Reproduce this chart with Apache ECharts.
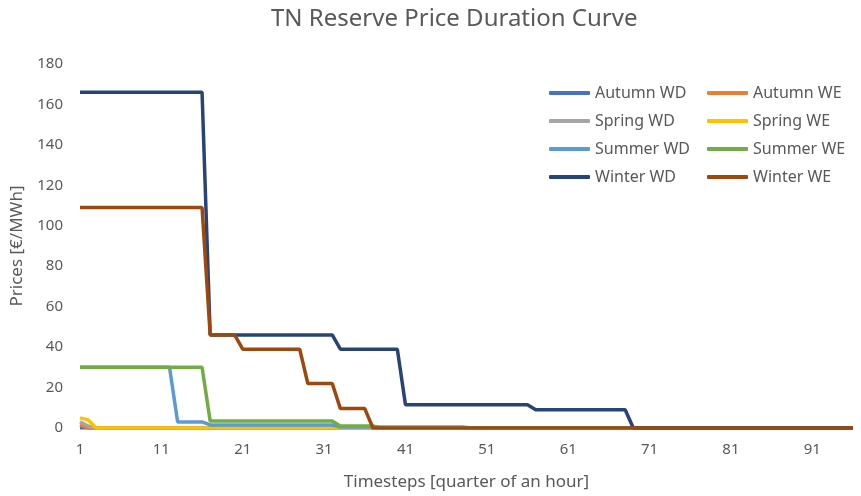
<!DOCTYPE html>
<html>
<head>
<meta charset="utf-8">
<script src="https://cdn.jsdelivr.net/npm/echarts@6/dist/echarts.min.js"></script>
<style>
html,body{margin:0;padding:0;background:#fff;}
#chart{width:861px;height:496px;}
</style>
</head>
<body>
<div id="chart"></div>
<script>
const categories = [
  1,2,3,4,5,6,7,8,9,10,11,12,
  13,14,15,16,17,18,19,20,21,22,23,24,
  25,26,27,28,29,30,31,32,33,34,35,36,
  37,38,39,40,41,42,43,44,45,46,47,48,
  49,50,51,52,53,54,55,56,57,58,59,60,
  61,62,63,64,65,66,67,68,69,70,71,72,
  73,74,75,76,77,78,79,80,81,82,83,84,
  85,86,87,88,89,90,91,92,93,94,95,96];

const autumnWD = [
  0,0,0,0,0,0,0,0,0,0,0,0,
  0,0,0,0,0,0,0,0,0,0,0,0,
  0,0,0,0,0,0,0,0,0,0,0,0,
  0,0,0,0,0,0,0,0,0,0,0,0,
  0,0,0,0,0,0,0,0,0,0,0,0,
  0,0,0,0,0,0,0,0,0,0,0,0,
  0,0,0,0,0,0,0,0,0,0,0,0,
  0,0,0,0,0,0,0,0,0,0,0,0];
const autumnWE = [
  1.5,0,0,0,0,0,0,0,0,0,0,0,
  0,0,0,0,0,0,0,0,0,0,0,0,
  0,0,0,0,0,0,0,0,0,0,0,0,
  0,0,0,0,0,0,0,0,0,0,0,0,
  0,0,0,0,0,0,0,0,0,0,0,0,
  0,0,0,0,0,0,0,0,0,0,0,0,
  0,0,0,0,0,0,0,0,0,0,0,0,
  0,0,0,0,0,0,0,0,0,0,0,0];
const springWD = [
  3,1,0,0,0,0,0,0,0,0,0,0,
  0,0,0,0,0,0,0,0,0,0,0,0,
  0,0,0,0,0,0,0,0,0,0,0,0,
  0,0,0,0,0,0,0,0,0,0,0,0,
  0,0,0,0,0,0,0,0,0,0,0,0,
  0,0,0,0,0,0,0,0,0,0,0,0,
  0,0,0,0,0,0,0,0,0,0,0,0,
  0,0,0,0,0,0,0,0,0,0,0,0];
const springWE = [
  5,4,0,0,0,0,0,0,0,0,0,0,
  0,0,0,0,0,0,0,0,0,0,0,0,
  0,0,0,0,0,0,0,0,0,0,0,0,
  0,0,0,0,0,0,0,0,0,0,0,0,
  0,0,0,0,0,0,0,0,0,0,0,0,
  0,0,0,0,0,0,0,0,0,0,0,0,
  0,0,0,0,0,0,0,0,0,0,0,0,
  0,0,0,0,0,0,0,0,0,0,0,0];
const summerWD = [
  30,30,30,30,30,30,30,30,30,30,30,30,
  3,3,3,3,1.5,1.5,1.5,1.5,1.5,1.5,1.5,1.5,
  1.5,1.5,1.5,1.5,1.5,1.5,1.5,1.5,0.5,0.5,0.5,0.5,
  0.5,0.5,0.5,0.5,0.5,0.5,0.5,0.5,0.5,0.5,0.5,0.5,
  0,0,0,0,0,0,0,0,0,0,0,0,
  0,0,0,0,0,0,0,0,0,0,0,0,
  0,0,0,0,0,0,0,0,0,0,0,0,
  0,0,0,0,0,0,0,0,0,0,0,0];
const summerWE = [
  30,30,30,30,30,30,30,30,30,30,30,30,
  30,30,30,30,3.4,3.4,3.4,3.4,3.4,3.4,3.4,3.4,
  3.4,3.4,3.4,3.4,3.4,3.4,3.4,3.4,1,1,1,1,
  1,0,0,0,0,0,0,0,0,0,0,0,
  0,0,0,0,0,0,0,0,0,0,0,0,
  0,0,0,0,0,0,0,0,0,0,0,0,
  0,0,0,0,0,0,0,0,0,0,0,0,
  0,0,0,0,0,0,0,0,0,0,0,0];
const winterWD = [
  166,166,166,166,166,166,166,166,166,166,166,166,
  166,166,166,166,46,46,46,46,46,46,46,46,
  46,46,46,46,46,46,46,46,39,39,39,39,
  39,39,39,39,11.5,11.5,11.5,11.5,11.5,11.5,11.5,11.5,
  11.5,11.5,11.5,11.5,11.5,11.5,11.5,11.5,9,9,9,9,
  9,9,9,9,9,9,9,9,0,0,0,0,
  0,0,0,0,0,0,0,0,0,0,0,0,
  0,0,0,0,0,0,0,0,0,0,0,0];
const winterWE = [
  109,109,109,109,109,109,109,109,109,109,109,109,
  109,109,109,109,46,46,46,46,39,39,39,39,
  39,39,39,39,22,22,22,22,9.6,9.6,9.6,9.6,
  0,0,0,0,0,0,0,0,0,0,0,0,
  0,0,0,0,0,0,0,0,0,0,0,0,
  0,0,0,0,0,0,0,0,0,0,0,0,
  0,0,0,0,0,0,0,0,0,0,0,0,
  0,0,0,0,0,0,0,0,0,0,0,0];

const seriesNames = ['Autumn WD','Autumn WE','Spring WD','Spring WE','Summer WD','Summer WE','Winter WD','Winter WE'];
const seriesData = [autumnWD, autumnWE, springWD, springWE, summerWD, summerWE, winterWD, winterWE];
const seriesColors = ['#4472C4','#ED7D31','#A5A5A5','#FFC000','#5B9BD5','#70AD47','#264478','#9E480E'];

const FONT = 'Noto Sans';
const chart = echarts.init(document.getElementById('chart'));
const legendCommon = {
  orient: 'vertical',
  top: 78,
  itemWidth: 41,
  itemHeight: 4,
  itemGap: 8,
  icon: 'roundRect',
  textStyle: { fontFamily: FONT, fontSize: 16, color: '#595959', lineHeight: 20 }
};
chart.setOption({
  animation: false,
  color: seriesColors,
  title: {
    text: 'TN Reserve Price Duration Curve',
    left: 266,
    top: 2,
    textStyle: { fontFamily: FONT, fontSize: 24, fontWeight: 'normal', color: '#595959' }
  },
  legend: [
    Object.assign({}, legendCommon, { left: 544, data: ['Autumn WD','Spring WD','Summer WD','Winter WD'] }),
    Object.assign({}, legendCommon, { left: 702, data: ['Autumn WE','Spring WE','Summer WE','Winter WE'] })
  ],
  grid: { left: 80, right: 8, top: 64, bottom: 66, containLabel: false },
  xAxis: {
    type: 'category',
    data: categories,
    boundaryGap: false,
    name: 'Timesteps [quarter of an hour]',
    nameLocation: 'middle',
    nameGap: 46,
    nameTextStyle: { fontFamily: FONT, fontSize: 17, color: '#595959' },
    axisLine: { lineStyle: { color: '#D9D9D9', width: 1 } },
    axisTick: { show: false },
    axisLabel: { interval: 9, fontFamily: FONT, fontSize: 15, color: '#595959', margin: 14 },
    splitLine: { show: false }
  },
  yAxis: {
    type: 'value',
    min: 0,
    max: 180,
    interval: 20,
    name: 'Prices [€/MWh]',
    nameLocation: 'middle',
    nameGap: 54,
    nameTextStyle: { fontFamily: FONT, fontSize: 17, color: '#595959' },
    axisLine: { show: false },
    axisTick: { show: false },
    axisLabel: { fontFamily: FONT, fontSize: 15, color: '#595959', margin: 17 },
    splitLine: { show: false }
  },
  series: seriesNames.map((n, i) => ({
    name: n,
    type: 'line',
    data: seriesData[i],
    symbol: 'none',
    lineStyle: { width: 3.5, color: seriesColors[i] },
    itemStyle: { color: seriesColors[i] }
  }))
});
</script>
</body>
</html>
